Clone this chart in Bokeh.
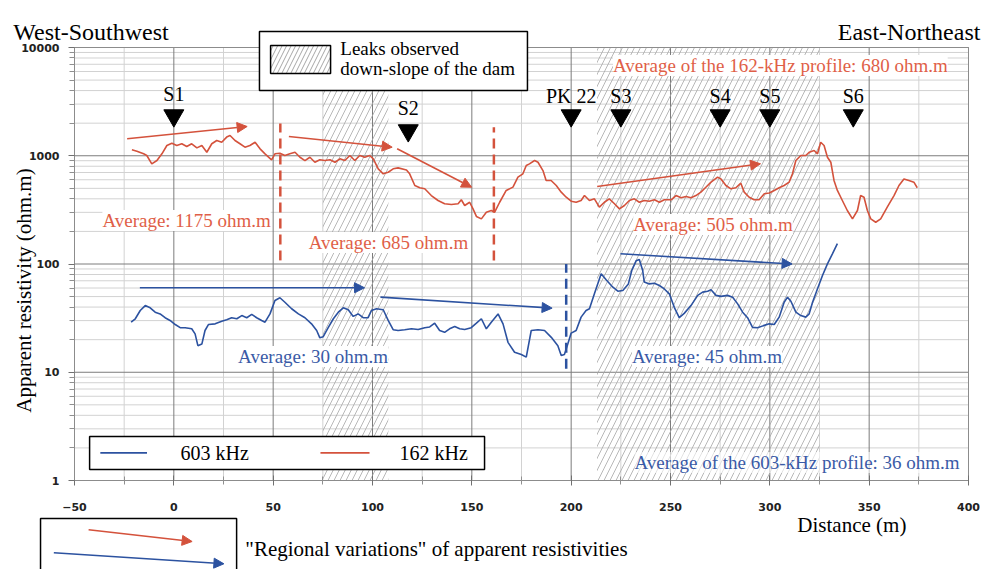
import numpy as np
from bokeh.plotting import figure
from bokeh.models import (Range1d, Label, Arrow, NormalHead, BoxAnnotation, FixedTicker,
                          NumeralTickFormatter, ColumnDataSource)
from bokeh.core.properties import value
from bokeh.embed import file_html
from bokeh.resources import INLINE

# ---------------------------------------------------------------- data
# 162 kHz apparent resistivity profile (distance in m, resistivity in ohm.m)
dist_162 = [-21.1, -18.6, -15.2, -13.6, -11.1, -8.5, -6.0, -3.5, -1.0, 1.5,
            4.0, 6.5, 9.0, 11.6, 14.1, 16.6, 19.1, 21.6, 24.1, 26.6,
            28.3, 30.8, 33.3, 35.8, 38.3, 40.9, 43.4, 45.9, 49.2, 50.9,
            53.4, 55.9, 58.4, 61.0, 63.5, 66.0, 68.5, 71.0, 73.5, 76.0,
            78.6, 81.1, 83.6, 86.1, 88.6, 91.1, 93.6, 96.1, 98.6, 100.4,
            102.9, 105.4, 107.9, 110.4, 112.9, 117.1, 118.7, 121.3, 123.8, 126.3,
            129.6, 133.0, 136.3, 139.7, 143.1, 144.7, 146.4, 148.9, 150.6, 152.3,
            154.8, 157.3, 159.8, 161.5, 164.0, 167.3, 170.7, 173.2, 175.7, 177.4,
            179.0, 181.6, 183.3, 185.8, 187.4, 189.9, 192.5, 195.0, 197.5, 200.0,
            202.5, 205.0, 206.7, 209.2, 211.7, 214.2, 216.7, 219.2, 221.8, 224.3,
            226.8, 229.3, 231.8, 234.3, 236.8, 239.3, 241.9, 244.4, 246.9, 250.3,
            252.8, 255.3, 257.8, 260.3, 262.8, 265.3, 267.8, 270.4, 273.7, 275.4,
            277.9, 280.4, 282.9, 285.4, 287.1, 289.6, 292.1, 294.6, 297.2, 299.7,
            302.2, 304.7, 307.2, 309.7, 311.4, 313.1, 315.6, 318.1, 319.8, 322.3,
            324.0, 325.6, 327.3, 329.0, 330.7, 332.3, 334.0, 336.5, 339.0, 341.6,
            344.1, 345.7, 347.4, 349.1, 350.8, 353.3, 355.8, 359.1, 362.5, 365.0,
            367.5, 370.0, 372.5, 374.2]
rho_162 = [1134, 1100, 1042, 1005, 842, 903, 1042, 1244, 1306, 1244,
           1290, 1217, 1290, 1183, 1244, 1077, 1290, 1383, 1334, 1487,
           1538, 1383, 1290, 1200, 1244, 1334, 1158, 1042, 917, 1042,
           1055, 1005, 1042, 1077, 969, 903, 969, 871, 917, 903,
           917, 871, 936, 903, 1005, 903, 1005, 969, 1005, 936,
           757, 681, 704, 757, 773, 740, 681, 531, 506, 495,
           429, 386, 360, 354, 360, 392, 347, 372, 323, 275,
           261, 301, 312, 301, 372, 478, 513, 634, 681, 812,
           842, 903, 871, 730, 591, 591, 531, 461, 414, 380,
           372, 386, 429, 386, 400, 335, 372, 400, 360, 323,
           347, 386, 400, 372, 386, 380, 392, 372, 392, 392,
           429, 409, 420, 409, 429, 461, 512, 570, 634, 611,
           531, 495, 506, 558, 461, 414, 392, 392, 445, 452,
           478, 506, 531, 570, 681, 903, 1005, 1005, 1077, 1117,
           1042, 1334, 1244, 969, 871, 591, 478, 386, 312, 261,
           312, 429, 414, 312, 261, 243, 261, 335, 429, 531,
           611, 591, 570, 506]

# 603 kHz apparent resistivity profile
dist_603 = [-21.5, -19.4, -16.9, -14.4, -11.9, -9.4, -6.9, -4.4, -1.9, 0.7,
            3.2, 5.7, 9.0, 10.7, 12.1, 14.1, 15.7, 17.4, 20.8, 24.1,
            26.6, 29.1, 31.7, 34.2, 36.7, 39.2, 41.7, 44.2, 45.9, 48.4,
            50.9, 53.4, 55.9, 59.3, 62.7, 66.0, 69.3, 71.9, 73.5, 75.2,
            77.7, 80.3, 82.8, 85.3, 87.8, 90.3, 92.8, 95.3, 97.8, 99.5,
            102.0, 105.4, 107.9, 110.4, 112.9, 116.2, 119.6, 123.0, 126.3, 128.8,
            131.3, 133.8, 136.3, 138.8, 141.4, 143.9, 146.4, 149.7, 152.3, 154.8,
            157.3, 159.8, 163.2, 165.7, 168.2, 171.5, 174.9, 177.4, 179.9, 183.3,
            186.6, 190.0, 193.3, 195.0, 196.6, 198.3, 200.0, 202.5, 205.0, 207.5,
            209.2, 211.7, 215.1, 217.6, 221.0, 223.5, 226.0, 228.8, 230.5, 232.7,
            234.3, 236.0, 236.8, 239.3, 241.9, 244.4, 246.9, 249.4, 251.9, 254.4,
            256.9, 260.3, 263.7, 266.2, 268.7, 270.4, 272.9, 275.4, 278.7, 281.3,
            283.8, 286.3, 288.8, 291.3, 293.8, 297.2, 299.7, 302.2, 304.7, 307.2,
            308.9, 310.6, 313.1, 315.6, 318.1, 319.8, 321.5, 324.0, 326.5, 329.0,
            331.5, 334.0]
rho_603 = [29.0, 31.2, 37.2, 41.3, 39.4, 35.9, 34.6, 31.9, 30.1, 27.6,
           25.8, 25.8, 25.2, 22.6, 17.6, 18.2, 24.3, 27.6, 28.0, 29.6,
           30.6, 31.9, 31.2, 33.4, 31.9, 34.2, 31.9, 30.1, 29.0, 34.6,
           46.0, 48.8, 44.3, 38.6, 34.6, 31.9, 28.0, 24.3, 20.8, 21.3,
           25.8, 31.2, 35.9, 39.4, 37.8, 32.8, 34.6, 31.9, 31.9, 37.2,
           38.6, 37.8, 30.1, 24.7, 24.3, 24.7, 25.2, 24.8, 25.8, 26.2,
           28.4, 24.3, 23.4, 25.2, 26.5, 25.2, 24.8, 25.8, 28.4, 31.2,
           25.2, 29.0, 34.6, 28.0, 18.9, 15.3, 14.6, 13.8, 24.3, 24.7,
           24.3, 21.0, 17.6, 14.3, 14.6, 18.2, 23.0, 24.3, 32.3, 37.2,
           38.6, 53.0, 81.2, 71.5, 61.0, 56.1, 56.9, 65.5, 87.1, 107.0,
           110.0, 87.1, 68.1, 65.5, 66.4, 63.3, 58.8, 53.0, 39.8, 31.9,
           35.0, 41.3, 51.3, 55.0, 56.1, 57.9, 51.3, 50.2, 51.3, 49.4,
           42.8, 35.9, 31.9, 26.0, 25.8, 27.1, 28.0, 27.6, 32.3, 44.3,
           49.4, 45.3, 35.9, 33.4, 32.3, 34.6, 44.3, 59.0, 78.3, 100.4,
           124.0, 154.0]

# Stretches where leaks were observed down-slope of the dam (m)
leak_start = [75, 213]
leak_end = [108, 325]

# Boreholes / reference point along the profile
station_names = ["S1", "S2", "PK 22", "S3", "S4", "S5", "S6"]
station_dist = [0, 118, 200, 225, 275, 300, 342]
station_marker_level = [2350, 1710, 2350, 2350, 2350, 2350, 2350]
station_label_level = [3750, 2750, 3600, 3600, 3600, 3600, 3600]

# Limits of the averaging windows
breaks_162 = [53.6, 161.1]
breaks_603 = [197.5]

# "Regional variations" (trend arrows): start/end distance and resistivity
trend_162_x0 = [-23.5, 57.9, 112.4, 213.1]
trend_162_x1 = [36.9, 109.9, 149.9, 295.3]
trend_162_y0 = [1435, 1506, 1159, 520]
trend_162_y1 = [1863, 1200, 512, 843]
trend_603_x0 = [-17.1, 104.0, 224.8]
trend_603_x1 = [96.0, 190.4, 311.2]
trend_603_y0 = [60.3, 49.4, 124.2]
trend_603_y1 = [60.3, 39.1, 100.0]

# axis extents and ticks
X_MIN, X_MAX = -50, 400
Y_MIN, Y_MAX = 1, 10000
x_major = list(range(-50, 401, 50))
x_minor = list(range(-25, 400, 50))
y_major = [1, 10, 100, 1000, 10000]
y_minor = [m * 10 ** e for e in range(4) for m in range(2, 10)]

# ---------------------------------------------------------------- style
RED = "#d4523c"
RED_TXT = "#df5f48"
BLUE = "#2c52a0"
BLUE_TXT = "#3a5aa6"
SERIF = "Liberation Serif"
SANS = "DejaVu Sans"
MAJOR_GRID = "#7c7c7c"
MINOR_GRID = "#d2d2d2"

# The canvas is one big frame; the plotting box (-50..400 m, 1..10000 ohm.m)
# sits inside it so that titles and legends around it stay visible.
PX_PER_M = 894 / 450.0
PX_PER_DECADE = 433 / 4.0
x_lo = X_MIN - 74 / PX_PER_M
x_hi = X_MAX + 15 / PX_PER_M
y_lo = 10 ** (-89 / PX_PER_DECADE)
y_hi = 10 ** (4 + 47 / PX_PER_DECADE)

p = figure(width=983, height=569, title=None,
           x_range=Range1d(x_lo, x_hi), y_range=Range1d(y_lo, y_hi),
           y_axis_type="log", output_backend="svg", toolbar_location=None,
           min_border=0, background_fill_color="white",
           border_fill_color="white", outline_line_color=None)
p.xgrid.visible = False
p.ygrid.visible = False

xax = p.xaxis[0]
yax = p.yaxis[0]
xax.fixed_location = Y_MIN
yax.fixed_location = X_MIN
xax.bounds = (X_MIN, X_MAX)
yax.bounds = (Y_MIN, Y_MAX)
xax.ticker = FixedTicker(ticks=x_major, minor_ticks=x_minor)
yax.ticker = FixedTicker(ticks=y_major, minor_ticks=y_minor)
yax.formatter = NumeralTickFormatter(format="0")
for ax in (xax, yax):
    ax.axis_line_color = "#8c8c8c"
    ax.major_tick_line_color = "#707070"
    ax.minor_tick_line_color = "#909090"
    ax.major_label_text_font = SANS
    ax.major_label_text_font_style = "bold"
    ax.major_label_text_font_size = "11px"
    ax.major_label_text_color = "#222222"
xax.major_tick_in = 5
xax.major_tick_out = 5
xax.minor_tick_in = 4
xax.minor_tick_out = 4
xax.major_label_standoff = 17
yax.major_tick_in = 0
yax.major_tick_out = 6
yax.minor_tick_in = 0
yax.minor_tick_out = 5
yax.major_label_standoff = 9

# grid lines of the plotting box
p.segment(x0=x_minor, x1=x_minor, y0=Y_MIN, y1=Y_MAX, line_color=MINOR_GRID, line_width=1)
p.segment(x0=X_MIN, x1=X_MAX, y0=y_minor, y1=y_minor, line_color=MINOR_GRID, line_width=1)
p.segment(x0=x_major, x1=x_major, y0=Y_MIN, y1=Y_MAX, line_color=MAJOR_GRID, line_width=1)
p.segment(x0=X_MIN, x1=X_MAX, y0=y_major, y1=y_major, line_color=MAJOR_GRID, line_width=1)

# hatched leak zones
p.quad(left=leak_start, right=leak_end, bottom=Y_MIN, top=Y_MAX,
       fill_alpha=0, line_alpha=0, hatch_pattern="/", hatch_color="#a6a6a6",
       hatch_alpha=0.8, hatch_scale=12, hatch_weight=1)

# box outline
p.quad(left=X_MIN, right=X_MAX, bottom=Y_MIN, top=Y_MAX, fill_alpha=0,
       line_color="#8c8c8c", line_width=1)

# averaging-window limits
p.segment(x0=breaks_162, x1=breaks_162, y0=[108, 108], y1=[1986, 1836],
          line_color=RED, line_width=2.5, line_dash="10 6")
p.segment(x0=breaks_603, x1=breaks_603, y0=[10.8], y1=[100],
          line_color=BLUE, line_width=2.5, line_dash="10 6")

# profiles
p.line(dist_162, rho_162, line_color=RED, line_width=1.6)
p.line(dist_603, rho_603, line_color=BLUE, line_width=1.6)

# station markers
p.scatter(x=station_dist, y=station_marker_level, marker="inverted_triangle",
          size=20, fill_color="black", line_color="black")
p.text(x=station_dist, y=station_label_level, text=station_names,
       text_font=value(SERIF), text_font_size="20px", text_align="center",
       text_baseline="middle", text_color="black")

# trend arrows
for xs, xe, ys, ye, col in ((trend_162_x0, trend_162_x1, trend_162_y0, trend_162_y1, RED),
                            (trend_603_x0, trend_603_x1, trend_603_y0, trend_603_y1, BLUE)):
    src = ColumnDataSource(dict(x0=xs, x1=xe, y0=ys, y1=ye))
    p.add_layout(Arrow(end=NormalHead(size=10, fill_color=col, line_color=col, line_width=1),
                       x_start="x0", y_start="y0", x_end="x1", y_end="y1",
                       source=src, line_color=col, line_width=1.6))


def note(x, y, text, color, size="19px", align="center", baseline="middle",
         bg=True, bg_alpha=1.0, angle=0, font=SERIF):
    kw = dict(x=x, y=y, text=text, text_color=color, text_font=font,
              text_font_size=size, text_align=align, text_baseline=baseline,
              angle=angle)
    if bg:
        kw.update(background_fill_color="white", background_fill_alpha=bg_alpha)
    p.add_layout(Label(**kw))


def box(left, right, bottom, top, **extra):
    p.add_layout(BoxAnnotation(left=left, right=right, bottom=bottom, top=top,
                               fill_color="white", fill_alpha=1, line_color="black",
                               line_alpha=1, line_width=1.5, **extra))


# averages
note(305.3, 6820, "Average of the 162-kHz profile: 680 ohm.m", RED_TXT)
note(6.4, 252, "Average: 1175 ohm.m", RED_TXT)
note(108.0, 158, "Average: 685 ohm.m", RED_TXT)
note(271.4, 232, "Average: 505 ohm.m", RED_TXT)
note(70.1, 14.0, "Average: 30 ohm.m", BLUE_TXT)
note(268.4, 14.0, "Average: 45 ohm.m", BLUE_TXT)
note(313.7, 1.47, "Average of the 603-kHz profile: 36 ohm.m", BLUE_TXT, bg_alpha=0.6)

# leak legend (top)
box(43.1, 178.0, 4008, 14060)
box(48.7, 78.9, 5750, 10430, hatch_pattern="/", hatch_color="#a6a6a6",
    hatch_scale=9, hatch_weight=1)
note(83.8, 9690, "Leaks observed", "black", align="left", bg=False)
note(83.8, 6400, "down-slope of the dam", "black", align="left", bg=False)

# frequency legend (in plot)
box(-42.4, 156.4, 1.264, 2.55)
p.add_layout(Arrow(end=None, x_start=-37.0, y_start=1.80, x_end=-13.5, y_end=1.80,
                   line_color=BLUE, line_width=1.6))
p.add_layout(Arrow(end=None, x_start=73.8, y_start=1.80, x_end=98.5, y_end=1.80,
                   line_color=RED, line_width=1.6))
note(3.4, 1.80, "603 kHz", "black", size="20px", align="left", bg=False)
note(113.6, 1.80, "162 kHz", "black", size="20px", align="left", bg=False)

# orientation and axis titles
note(-80.8, 13760, "West-Southwest", "black", size="24px", align="left",
     baseline="alphabetic", bg=False)
note(406.0, 13760, "East-Northeast", "black", size="24px", align="right",
     baseline="alphabetic", bg=False)
note(-75.6, 56.9, "Apparent resistivity (ohm.m)", "black", size="21px",
     bg=False, angle=np.pi / 2)
note(341.3, 0.392, "Distance (m)", "black", size="21px", bg=False)

# regional-variation legend (below the plot)
box(-67.1, 31.6, 0.05, 0.4457)
p.add_layout(Arrow(end=NormalHead(size=10, fill_color=RED, line_color=RED, line_width=1),
                   x_start=-42.9, y_start=0.3504, x_end=9.2, y_end=0.2732,
                   line_color=RED, line_width=1.6))
p.add_layout(Arrow(end=NormalHead(size=10, fill_color=BLUE, line_color=BLUE, line_width=1),
                   x_start=-60.4, y_start=0.2148, x_end=25.2, y_end=0.170,
                   line_color=BLUE, line_width=1.6))
note(36.0, 0.2305, '"Regional variations" of apparent resistivities', "black",
     size="21px", align="left", bg=False)

open("out.html", "w").write(file_html(p, INLINE))
